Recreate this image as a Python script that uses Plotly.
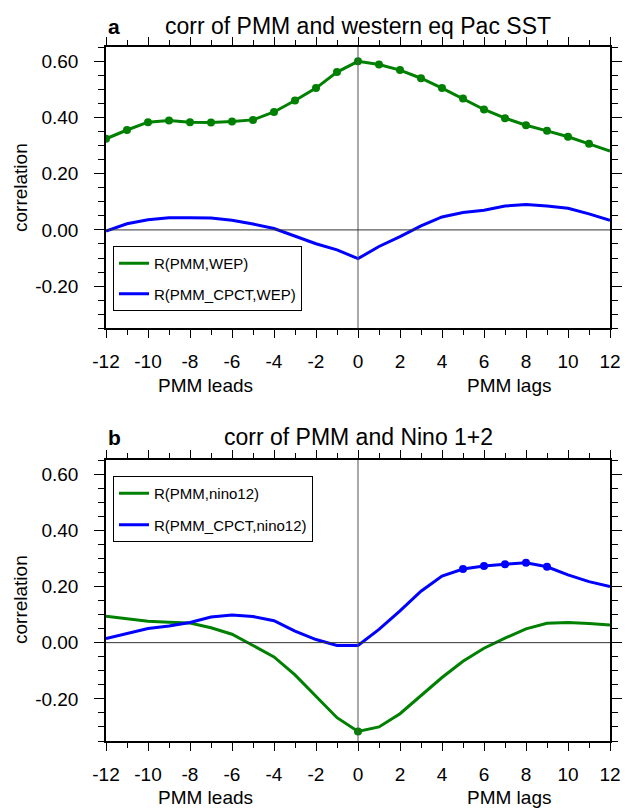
import plotly.graph_objects as go

# ---------------- data ----------------
lags = list(range(-12, 13))
a_pmm_wep = [0.324, 0.355, 0.383, 0.389, 0.383, 0.382, 0.385, 0.391, 0.419, 0.460, 0.504, 0.561, 0.599,
             0.588, 0.568, 0.539, 0.504, 0.467, 0.428, 0.397, 0.372, 0.352, 0.331, 0.306, 0.280]
a_cpct_wep = [-0.004, 0.022, 0.036, 0.043, 0.043, 0.042, 0.034, 0.021, 0.005, -0.021, -0.049, -0.071, -0.102,
              -0.059, -0.024, 0.014, 0.046, 0.062, 0.070, 0.085, 0.090, 0.085, 0.077, 0.057, 0.034]
b_pmm_nino = [0.094, 0.085, 0.076, 0.073, 0.070, 0.053, 0.030, -0.010, -0.051, -0.115, -0.190, -0.267, -0.316,
              -0.300, -0.253, -0.188, -0.124, -0.066, -0.020, 0.016, 0.049, 0.069, 0.072, 0.068, 0.063]
b_cpct_nino = [0.015, 0.032, 0.050, 0.059, 0.072, 0.091, 0.098, 0.093, 0.078, 0.041, 0.011, -0.010, -0.010,
               0.047, 0.113, 0.183, 0.237, 0.262, 0.273, 0.279, 0.284, 0.270, 0.241, 0.217, 0.200]
# lags marked as significant (dots)
a_pmm_sig = list(range(-12, 12))
a_cpct_sig = []
b_pmm_sig = [0]
b_cpct_sig = [5, 6, 7, 8, 9]

x_ticks = list(range(-12, 13, 2))
x_tick_labels = ["-12", "-10", "-8", "-6", "-4", "-2", "0", "2", "4", "6", "8", "10", "12"]
y_ticks = [-0.2, 0.0, 0.2, 0.4, 0.6]
y_tick_labels = ["-0.20", "0.00", "0.20", "0.40", "0.60"]

GREEN = "#008000"
BLUE = "#0000ff"
FONT = "Liberation Sans, Arial, Helvetica, sans-serif"
W, H = 630, 809

fig = go.Figure()


def add_series(xa, ya, y, sig, name, color, legend):
    fig.add_trace(go.Scatter(x=lags, y=y, mode="lines", name=name, xaxis=xa, yaxis=ya,
                             line=dict(color=color, width=3), legend=legend,
                             legendgroup=name))
    if sig:
        sx = [l for l in lags if l in sig]
        sy = [v for l, v in zip(lags, y) if l in sig]
        fig.add_trace(go.Scatter(x=sx, y=sy, mode="markers", xaxis=xa, yaxis=ya,
                                 marker=dict(color=color, size=8), showlegend=False,
                                 hoverinfo="skip"))


add_series("x", "y", a_pmm_wep, a_pmm_sig, "R(PMM,WEP)", GREEN, "legend")
add_series("x", "y", a_cpct_wep, a_cpct_sig, "R(PMM_CPCT,WEP)", BLUE, "legend")
add_series("x2", "y2", b_pmm_nino, b_pmm_sig, "R(PMM,nino12)", GREEN, "legend2")
add_series("x2", "y2", b_cpct_nino, b_cpct_sig, "R(PMM_CPCT,nino12)", BLUE, "legend2")


def px_x(p):
    return p / W


def px_y(p):
    return 1 - p / H


xdom = [px_x(106), px_x(610)]
ydom_a = [px_y(328.4), px_y(47)]
ydom_b = [px_y(741), px_y(460)]

xcommon = dict(range=[-12, 12], tickvals=x_ticks, ticktext=x_tick_labels, ticks="outside", ticklen=8,
               tickwidth=1.3, tickcolor="black", showline=True, linecolor="black", linewidth=1.5,
               mirror="ticks", showgrid=False, zeroline=False, automargin=False,
               tickfont=dict(size=19, color="black", family=FONT),
               ticklabelstandoff=7,
               minor=dict(dtick=1, tick0=0, ticks="outside", ticklen=5, tickwidth=1.2, tickcolor="black"))
ycommon = dict(range=[-0.35, 0.65], tickvals=y_ticks, ticktext=y_tick_labels, ticks="outside", ticklen=10,
               tickwidth=1.3, tickcolor="black", showline=True, linecolor="black", linewidth=1.5,
               mirror="ticks", showgrid=False, zeroline=False, automargin=False,
               tickfont=dict(size=19, color="black", family=FONT), ticklabelstandoff=12,
               minor=dict(dtick=0.05, tick0=0, ticks="outside", ticklen=6, tickwidth=1.2, tickcolor="black"))

fig.update_layout(
    width=W, height=H, margin=dict(l=0, r=0, t=0, b=0, autoexpand=False),
    paper_bgcolor="white", plot_bgcolor="white",
    font=dict(family=FONT, color="black"),
    xaxis=dict(domain=xdom, anchor="y", **xcommon),
    yaxis=dict(domain=ydom_a, anchor="x", **ycommon),
    xaxis2=dict(domain=xdom, anchor="y2", **xcommon),
    yaxis2=dict(domain=ydom_b, anchor="x2", **ycommon),
    legend=dict(x=px_x(113), y=px_y(246), xanchor="left", yanchor="top", bgcolor="white",
                bordercolor="black", borderwidth=1, font=dict(size=15, family=FONT),
                itemwidth=30, tracegroupgap=8, traceorder="grouped"),
    legend2=dict(x=px_x(113), y=px_y(476), xanchor="left", yanchor="top", bgcolor="white",
                 bordercolor="black", borderwidth=1, font=dict(size=15, family=FONT),
                 itemwidth=30, tracegroupgap=9, traceorder="grouped"),
    showlegend=True,
)

# zero reference lines on top
for xr, yr in (("x", "y"), ("x2", "y2")):
    fig.add_shape(type="line", xref=xr, yref=yr + " domain", x0=0, x1=0, y0=0, y1=1,
                  line=dict(color="#555555", width=1), layer="above")
    fig.add_shape(type="line", xref=xr + " domain", yref=yr, x0=0, x1=1, y0=0, y1=0,
                  line=dict(color="#333333", width=1), layer="above")

ann = []
# titles
for ytitle, letter, txt in ((26, "a", "corr of PMM and western eq Pac SST"),
                            (437, "b", "corr of PMM and Nino 1+2")):
    ann.append(dict(xref="paper", yref="paper", x=px_x(106), y=px_y(ytitle), text="<b>" + letter + "</b>",
                    showarrow=False, xanchor="left", yanchor="middle", font=dict(size=21, family=FONT)))
    ann.append(dict(xref="paper", yref="paper", x=px_x(358), y=px_y(ytitle), text=txt,
                    showarrow=False, xanchor="center", yanchor="middle", font=dict(size=23, family=FONT)))
# y labels
for yc in (188, 600):
    ann.append(dict(xref="paper", yref="paper", x=px_x(20), y=px_y(yc), text="correlation", textangle=-90,
                    showarrow=False, xanchor="center", yanchor="middle", font=dict(size=19, family=FONT)))
# leads/lags
for xr, yc in (("x", 385), ("x2", 797)):
    ann.append(dict(xref=xr, yref="paper", x=-7.25, y=px_y(yc), text="PMM leads", showarrow=False,
                    xanchor="center", yanchor="middle", font=dict(size=19, family=FONT)))
    ann.append(dict(xref=xr, yref="paper", x=7.2, y=px_y(yc), text="PMM lags", showarrow=False,
                    xanchor="center", yanchor="middle", font=dict(size=19, family=FONT)))
fig.update_layout(annotations=ann)

fig.write_html("out.html", config={"displayModeBar": False},
               post_script="document.body.style.margin='0';document.body.style.padding='0';"
                           "document.body.style.overflow='hidden';")
